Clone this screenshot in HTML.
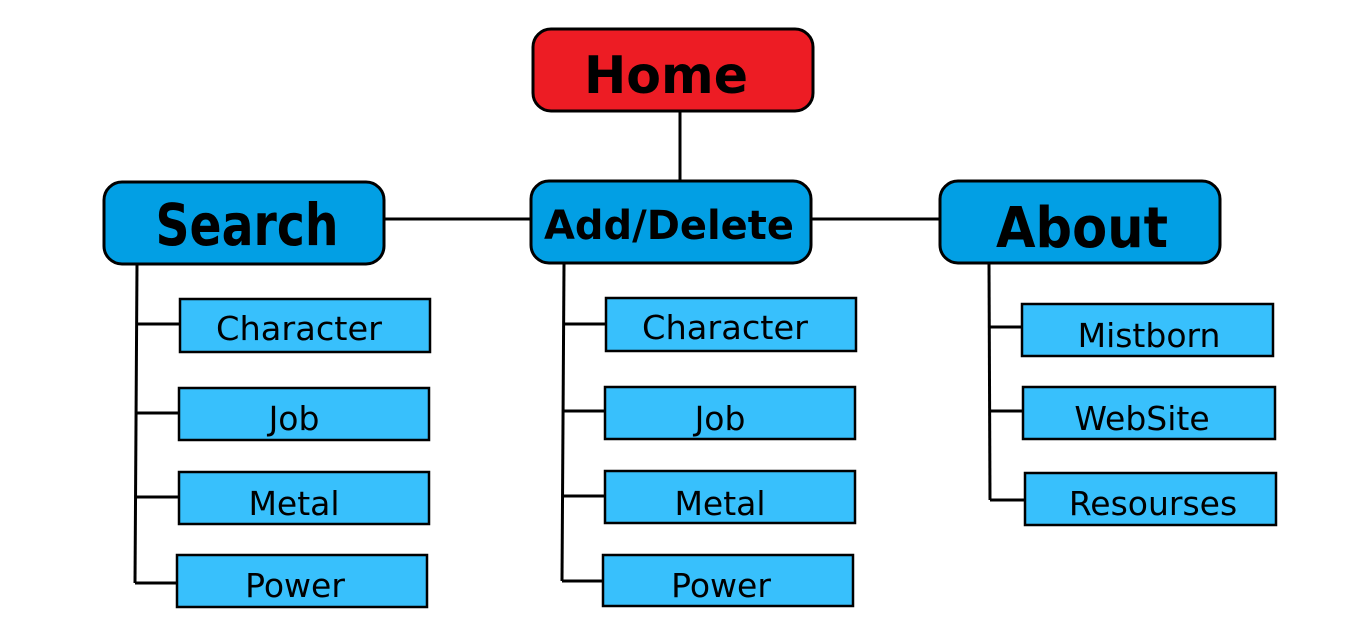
<!DOCTYPE html>
<html><head><meta charset="utf-8"><style>body{margin:0;background:#fff}svg{display:block}</style></head><body>
<svg width="1350" height="629" viewBox="0 0 1350 629" xmlns="http://www.w3.org/2000/svg" font-family="'DejaVu Sans','Liberation Sans',sans-serif">
<g stroke="#000" stroke-width="3" fill="none">
<line x1="680" y1="111" x2="680" y2="181"/>
<line x1="384" y1="219" x2="531" y2="219"/>
<line x1="811" y1="219" x2="940" y2="219"/>
<line x1="137" y1="264" x2="135" y2="583"/>
<line x1="136" y1="324" x2="180" y2="324"/>
<line x1="136" y1="413" x2="179" y2="413"/>
<line x1="135" y1="497" x2="179" y2="497"/>
<line x1="135" y1="583" x2="177" y2="583"/>
<line x1="564" y1="264" x2="562" y2="581"/>
<line x1="563" y1="324" x2="606" y2="324"/>
<line x1="563" y1="411" x2="605" y2="411"/>
<line x1="562" y1="496" x2="605" y2="496"/>
<line x1="562" y1="581" x2="603" y2="581"/>
<line x1="989" y1="264" x2="990" y2="500"/>
<line x1="989" y1="327" x2="1022" y2="327"/>
<line x1="990" y1="411" x2="1023" y2="411"/>
<line x1="990" y1="500" x2="1025" y2="500"/>
</g>
<g stroke="#000" stroke-width="3">
<rect x="533" y="29" width="280" height="82" rx="18" fill="#ed1c24"/>
<rect x="104" y="182" width="280" height="82" rx="18" fill="#029fe4"/>
<rect x="531" y="181" width="280" height="82" rx="18" fill="#029fe4"/>
<rect x="940" y="181" width="280" height="82" rx="18" fill="#029fe4"/>
<g fill="#38c0fc" stroke-width="2.5">
<rect x="180" y="299" width="250" height="53"/>
<rect x="179" y="388" width="250" height="52"/>
<rect x="179" y="472" width="250" height="52"/>
<rect x="177" y="555" width="250" height="52"/>
<rect x="606" y="298" width="250" height="53"/>
<rect x="605" y="387" width="250" height="52"/>
<rect x="605" y="471" width="250" height="52"/>
<rect x="603" y="555" width="250" height="51"/>
<rect x="1022" y="304" width="251" height="52"/>
<rect x="1023" y="387" width="252" height="52"/>
<rect x="1025" y="473" width="251" height="52"/>
</g>
</g>
<g text-anchor="middle" font-weight="bold" fill="#000">
<text x="666" y="93" font-size="52" textLength="164" lengthAdjust="spacingAndGlyphs">Home</text>
<text x="247" y="245" font-size="58" textLength="183" lengthAdjust="spacingAndGlyphs">Search</text>
<text x="669" y="239" font-size="40" textLength="250" lengthAdjust="spacingAndGlyphs">Add/Delete</text>
<text x="1082" y="247" font-size="56" textLength="172" lengthAdjust="spacingAndGlyphs">About</text>
</g>
<g text-anchor="middle" font-size="33" fill="#000">
<text x="299" y="340" textLength="166" lengthAdjust="spacingAndGlyphs">Character</text>
<text x="294" y="430">Job</text>
<text x="294" y="515">Metal</text>
<text x="295" y="597">Power</text>
<text x="725" y="339" textLength="166" lengthAdjust="spacingAndGlyphs">Character</text>
<text x="720" y="430">Job</text>
<text x="720" y="515">Metal</text>
<text x="721" y="597">Power</text>
<text x="1149" y="347">Mistborn</text>
<text x="1142" y="430">WebSite</text>
<text x="1153" y="515">Resourses</text>
</g>
</svg>
</body></html>
